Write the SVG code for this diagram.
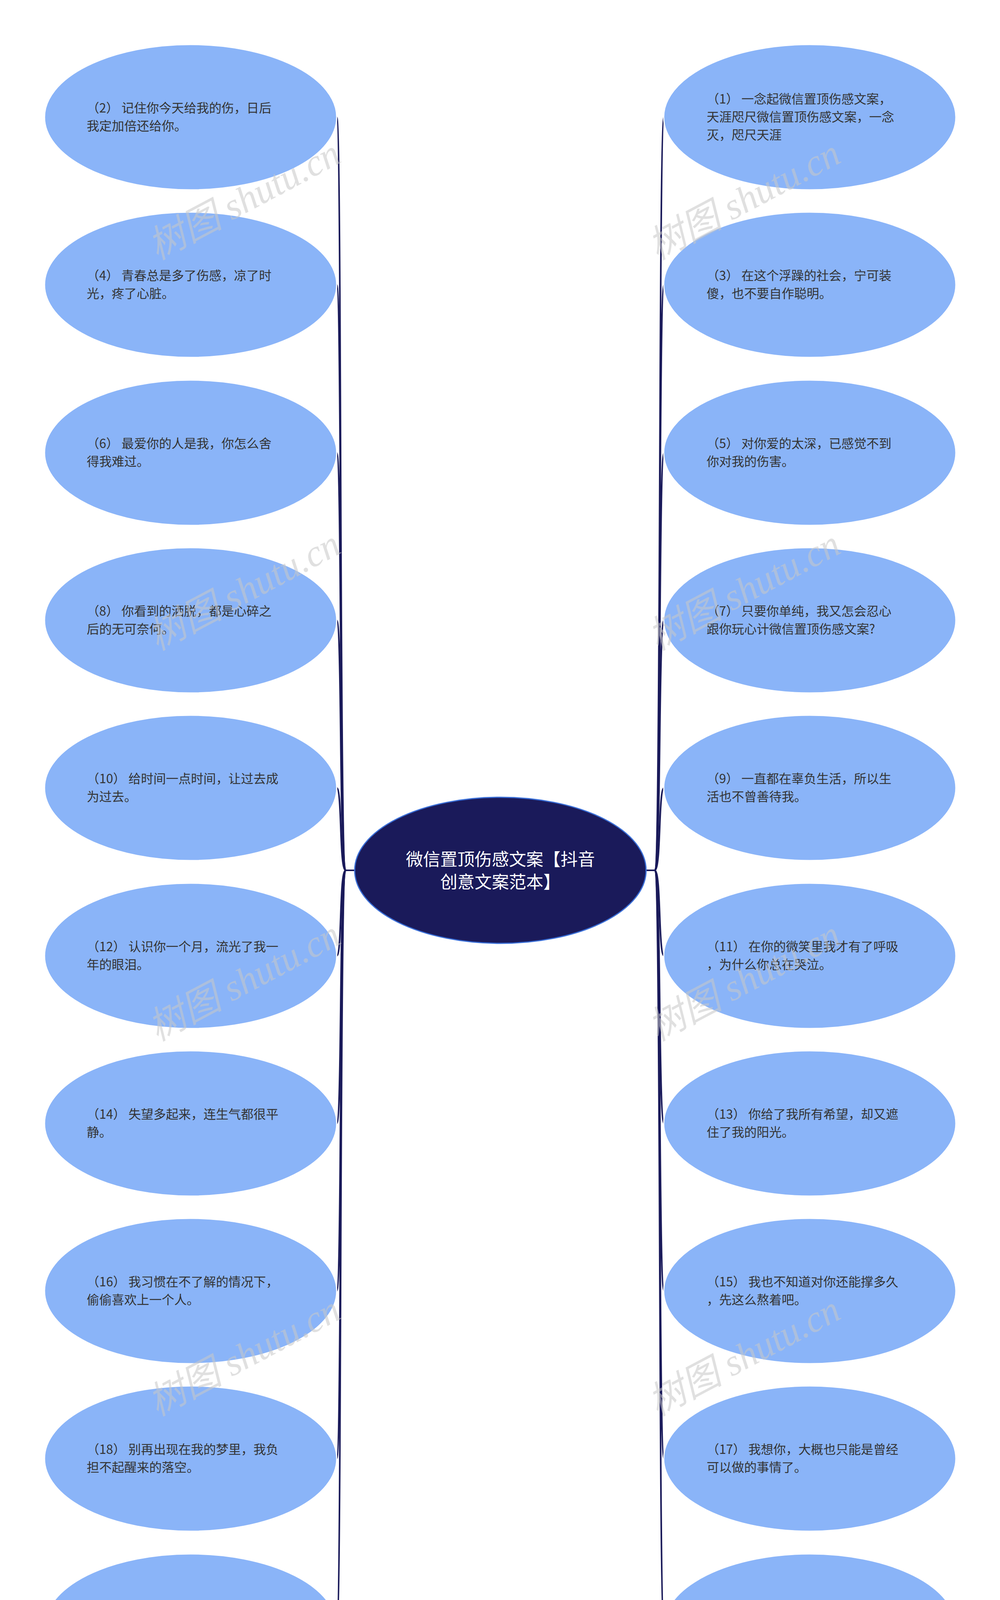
<svg xmlns="http://www.w3.org/2000/svg" width="2560" height="4461" viewBox="0 0 2560 4461">
<style>
.n{fill:#8ab4f8;stroke:#ffffff;stroke-width:3}
.t{font-family:"Noto Sans CJK SC","Noto Sans",sans-serif;font-size:32px;fill:#333333}
.c{fill:none;stroke:#1a1a5a;stroke-width:4}
.w{font-family:"Liberation Serif","Noto Sans CJK SC",serif;font-style:italic;font-size:96px;fill:#c8c8c8;opacity:0.55}
</style>
<rect width="2560" height="4461" fill="#ffffff"/>
<g id="connectors">
<path class="c" d="M908 2228 H885"/>
<path class="c" d="M1655 2228 H1676"/>
<path class="c" d="M885 2228 C868 2228 876 300 862 300"/>
<path class="c" d="M885 2228 C868 2228 876 729 862 729"/>
<path class="c" d="M885 2228 C868 2228 876 1159 862 1159"/>
<path class="c" d="M885 2228 C868 2228 876 1588 862 1588"/>
<path class="c" d="M885 2228 C868 2228 876 2017 862 2017"/>
<path class="c" d="M885 2228 C868 2228 876 2447 862 2447"/>
<path class="c" d="M885 2228 C868 2228 876 2876 862 2876"/>
<path class="c" d="M885 2228 C868 2228 876 3305 862 3305"/>
<path class="c" d="M885 2228 C868 2228 876 3734 862 3734"/>
<path class="c" d="M885 2228 C868 2228 876 4164 862 4164"/>
<path class="c" d="M1676 2228 C1693 2228 1685 300 1700 300"/>
<path class="c" d="M1676 2228 C1693 2228 1685 729 1700 729"/>
<path class="c" d="M1676 2228 C1693 2228 1685 1159 1700 1159"/>
<path class="c" d="M1676 2228 C1693 2228 1685 1588 1700 1588"/>
<path class="c" d="M1676 2228 C1693 2228 1685 2017 1700 2017"/>
<path class="c" d="M1676 2228 C1693 2228 1685 2447 1700 2447"/>
<path class="c" d="M1676 2228 C1693 2228 1685 2876 1700 2876"/>
<path class="c" d="M1676 2228 C1693 2228 1685 3305 1700 3305"/>
<path class="c" d="M1676 2228 C1693 2228 1685 3734 1700 3734"/>
<path class="c" d="M1676 2228 C1693 2228 1685 4164 1700 4164"/>
</g>
<g id="center">
<ellipse cx="1281" cy="2228" rx="373" ry="187" fill="#1a1a5a" stroke="#3a6fd8" stroke-width="3"/>
<text x="1281" y="2216" text-anchor="middle" font-family="Noto Sans CJK SC,sans-serif" font-size="44" fill="#ffffff">微信置顶伤感文案【抖音</text>
<text x="1281" y="2274" text-anchor="middle" font-family="Noto Sans CJK SC,sans-serif" font-size="44" fill="#ffffff">创意文案范本】</text>
</g>
<g id="n2"><ellipse class="n" cx="488" cy="300" rx="374" ry="186"/><text class="t" x="222" y="288"> （2） 记住你今天给我的伤，日后</text><text class="t" x="222" y="334">我定加倍还给你。</text></g>
<g id="n4"><ellipse class="n" cx="488" cy="729" rx="374" ry="186"/><text class="t" x="222" y="717"> （4） 青春总是多了伤感，凉了时</text><text class="t" x="222" y="763">光，疼了心脏。</text></g>
<g id="n6"><ellipse class="n" cx="488" cy="1159" rx="374" ry="186"/><text class="t" x="222" y="1147"> （6） 最爱你的人是我，你怎么舍</text><text class="t" x="222" y="1193">得我难过。</text></g>
<g id="n8"><ellipse class="n" cx="488" cy="1588" rx="374" ry="186"/><text class="t" x="222" y="1576"> （8） 你看到的洒脱，都是心碎之</text><text class="t" x="222" y="1622">后的无可奈何。</text></g>
<g id="n10"><ellipse class="n" cx="488" cy="2017" rx="374" ry="186"/><text class="t" x="222" y="2005"> （10） 给时间一点时间，让过去成</text><text class="t" x="222" y="2051">为过去。</text></g>
<g id="n12"><ellipse class="n" cx="488" cy="2447" rx="374" ry="186"/><text class="t" x="222" y="2435"> （12） 认识你一个月，流光了我一</text><text class="t" x="222" y="2481">年的眼泪。</text></g>
<g id="n14"><ellipse class="n" cx="488" cy="2876" rx="374" ry="186"/><text class="t" x="222" y="2864"> （14） 失望多起来，连生气都很平</text><text class="t" x="222" y="2910">静。</text></g>
<g id="n16"><ellipse class="n" cx="488" cy="3305" rx="374" ry="186"/><text class="t" x="222" y="3293"> （16） 我习惯在不了解的情况下，</text><text class="t" x="222" y="3339">偷偷喜欢上一个人。</text></g>
<g id="n18"><ellipse class="n" cx="488" cy="3734" rx="374" ry="186"/><text class="t" x="222" y="3722"> （18） 别再出现在我的梦里，我负</text><text class="t" x="222" y="3768">担不起醒来的落空。</text></g>
<g id="n20"><ellipse class="n" cx="488" cy="4164" rx="374" ry="186"/><text class="t" x="222" y="4130">(20)有些话只能梗在喉咙，烂在心</text><text class="t" x="222" y="4176">里。有些人只能假装失忆，最好别</text><text class="t" x="222" y="4222">再记起。</text></g>
<g id="n1"><ellipse class="n" cx="2073" cy="300" rx="374" ry="186"/><text class="t" x="1809" y="265"> （1） 一念起微信置顶伤感文案，</text><text class="t" x="1809" y="311">天涯咫尺微信置顶伤感文案，一念</text><text class="t" x="1809" y="357">灭，咫尺天涯</text></g>
<g id="n3"><ellipse class="n" cx="2073" cy="729" rx="374" ry="186"/><text class="t" x="1809" y="717"> （3） 在这个浮躁的社会，宁可装</text><text class="t" x="1809" y="763">傻，也不要自作聪明。</text></g>
<g id="n5"><ellipse class="n" cx="2073" cy="1159" rx="374" ry="186"/><text class="t" x="1809" y="1147"> （5） 对你爱的太深，已感觉不到</text><text class="t" x="1809" y="1193">你对我的伤害。</text></g>
<g id="n7"><ellipse class="n" cx="2073" cy="1588" rx="374" ry="186"/><text class="t" x="1809" y="1576"> （7） 只要你单纯，我又怎会忍心</text><text class="t" x="1809" y="1622">跟你玩心计微信置顶伤感文案?</text></g>
<g id="n9"><ellipse class="n" cx="2073" cy="2017" rx="374" ry="186"/><text class="t" x="1809" y="2005"> （9） 一直都在辜负生活，所以生</text><text class="t" x="1809" y="2051">活也不曾善待我。</text></g>
<g id="n11"><ellipse class="n" cx="2073" cy="2447" rx="374" ry="186"/><text class="t" x="1809" y="2435"> （11） 在你的微笑里我才有了呼吸</text><text class="t" x="1809" y="2481">，为什么你总在哭泣。</text></g>
<g id="n13"><ellipse class="n" cx="2073" cy="2876" rx="374" ry="186"/><text class="t" x="1809" y="2864"> （13） 你给了我所有希望，却又遮</text><text class="t" x="1809" y="2910">住了我的阳光。</text></g>
<g id="n15"><ellipse class="n" cx="2073" cy="3305" rx="374" ry="186"/><text class="t" x="1809" y="3293"> （15） 我也不知道对你还能撑多久</text><text class="t" x="1809" y="3339">，先这么熬着吧。</text></g>
<g id="n17"><ellipse class="n" cx="2073" cy="3734" rx="374" ry="186"/><text class="t" x="1809" y="3722"> （17） 我想你，大概也只能是曾经</text><text class="t" x="1809" y="3768">可以做的事情了。</text></g>
<g id="n19"><ellipse class="n" cx="2073" cy="4164" rx="374" ry="186"/><text class="t" x="1809" y="4152"> （19） 心痛了，累了，孤单了，蹲</text><text class="t" x="1809" y="4198">下来，抱抱自己。</text></g>
<g id="watermarks">
<text class="w" transform="translate(640 540) rotate(-28)" text-anchor="middle">树图 shutu.cn</text>
<text class="w" transform="translate(1920 540) rotate(-28)" text-anchor="middle">树图 shutu.cn</text>
<text class="w" transform="translate(640 1540) rotate(-28)" text-anchor="middle">树图 shutu.cn</text>
<text class="w" transform="translate(1920 1540) rotate(-28)" text-anchor="middle">树图 shutu.cn</text>
<text class="w" transform="translate(640 2540) rotate(-28)" text-anchor="middle">树图 shutu.cn</text>
<text class="w" transform="translate(1920 2540) rotate(-28)" text-anchor="middle">树图 shutu.cn</text>
<text class="w" transform="translate(640 3500) rotate(-28)" text-anchor="middle">树图 shutu.cn</text>
<text class="w" transform="translate(1920 3500) rotate(-28)" text-anchor="middle">树图 shutu.cn</text>
<text class="w" transform="translate(640 4460) rotate(-28)" text-anchor="middle">树图 shutu.cn</text>
<text class="w" transform="translate(1920 4460) rotate(-28)" text-anchor="middle">树图 shutu.cn</text>
</g>
</svg>
